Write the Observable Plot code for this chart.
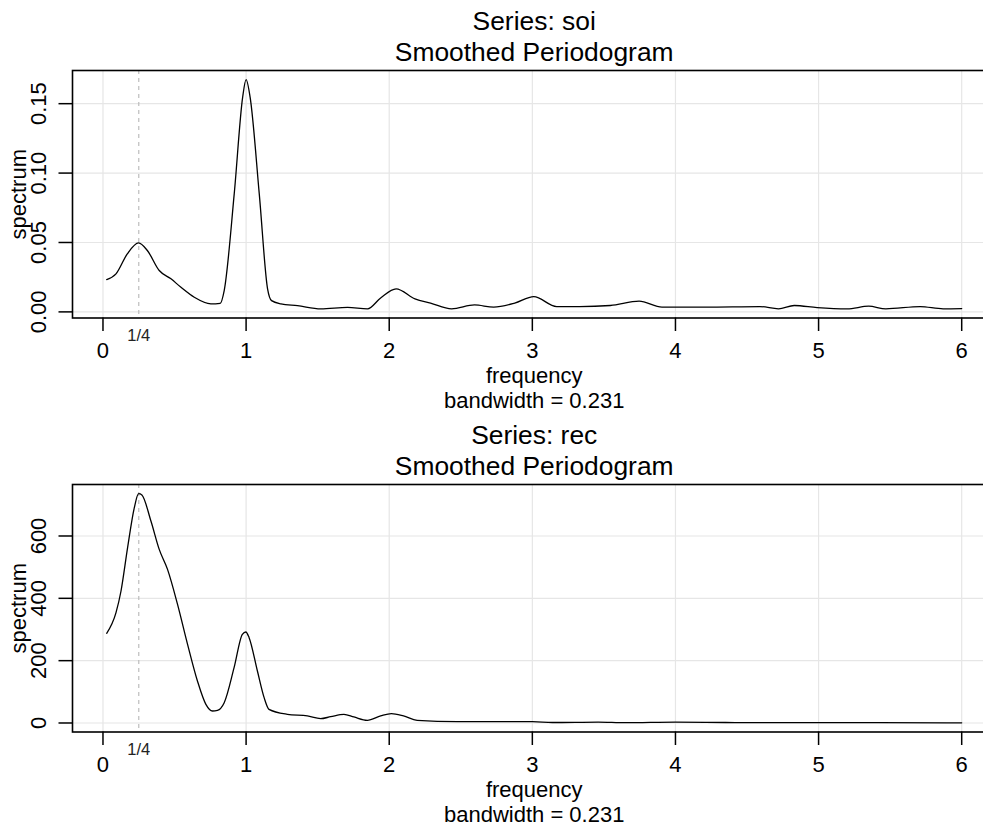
<!DOCTYPE html>
<html><head><meta charset="utf-8">
<script src="https://cdn.jsdelivr.net/npm/d3@7"></script>
<script src="https://cdn.jsdelivr.net/npm/@observablehq/plot@0.6"></script>
<style>html,body{margin:0;padding:0;background:#fff;overflow:hidden}svg{display:block}</style>
</head><body><div id="chart"></div>
<script>
// ---- data ----
const soiFreq = [0.026,0.091,0.17,0.249,0.31,0.393,0.475,0.545,0.638,0.754,0.819,0.847,0.917,0.976,1.0,1.028,1.092,1.15,1.178,1.243,1.359,1.522,1.709,1.848,1.94,2.048,2.18,2.289,2.436,2.596,2.73,2.877,3.01,3.17,3.33,3.545,3.746,3.906,4.21,4.59,4.72,4.83,4.99,5.2,5.35,5.47,5.71,5.87,6.0];
const soiSpec = [0.0233,0.0274,0.0418,0.0497,0.0442,0.0298,0.0238,0.0177,0.0105,0.0058,0.0062,0.0154,0.085,0.1547,0.1673,0.1547,0.085,0.0166,0.0081,0.0058,0.0045,0.0022,0.0033,0.0022,0.0100,0.0166,0.0094,0.0063,0.0022,0.0050,0.0034,0.0063,0.0110,0.0038,0.0038,0.0046,0.0077,0.0034,0.0034,0.0038,0.0022,0.0046,0.0031,0.0022,0.0041,0.0022,0.0038,0.0022,0.0024];
const recFreq = [0.026,0.091,0.126,0.172,0.219,0.249,0.272,0.335,0.393,0.451,0.521,0.591,0.66,0.719,0.765,0.8,0.847,0.916,0.974,0.998,1.021,1.079,1.126,1.16,1.288,1.428,1.521,1.591,1.684,1.753,1.847,1.94,2.015,2.1,2.195,2.476,3.0,3.14,3.46,3.65,4.0,4.35,5.0,5.42,6.0];
const recSpec = [287.7,354,423.5,562.6,691,735.8,731.5,648,557,493,380.7,252.4,134.8,59.9,38.5,40.6,65.2,177.5,284.5,292,273.8,166.8,81.3,43.8,27.8,22.5,13.9,20.3,27.8,19.3,8.6,22.5,30,22.5,8.6,4.3,4.3,1.5,3,1,3,1.5,1,1,0.5];
const xTicks = [0,1,2,3,4,5,6];
const soiYTicks = [0,0.05,0.10,0.15];
const recYTicks = [0,200,400,600];
const seriesNames = ["soi","rec"];
const mainTitle = "Smoothed Periodogram";
const xLabel = "frequency";
const yLabel = "spectrum";
const bandwidthText = "bandwidth = 0.231";
const markFreq = [0.25];
const markLabel = "1/4";

const FONT = "'Liberation Sans', Arial, Helvetica, sans-serif";

function rPad(ext){ const r = ext[1]-ext[0]; return [ext[0]-0.04*r, ext[1]+0.04*r]; }

function panel(name, freq, spec, yTicks, yFmt){
  const data = freq.map((f,i)=>({f, s: spec[i]}));
  return Plot.plot({
    width: 983, height: 413.5,
    marginTop: 70, marginBottom: 96, marginLeft: 72, marginRight: -12.4,
    style: {fontFamily: FONT, fontSize: "22px", color: "#000", background: "#fff", overflow: "hidden"},
    x: {domain: rPad(d3.extent(freq))},
    y: {domain: rPad(d3.extent(spec))},
    marks: [
      Plot.gridX(xTicks, {stroke: "#e6e6e6", strokeOpacity: 1, strokeWidth: 1.2}),
      Plot.gridY(yTicks, {stroke: "#e6e6e6", strokeOpacity: 1, strokeWidth: 1.2}),
      Plot.ruleX(markFreq, {x: d=>d, stroke: "#bdbdbd", strokeDasharray: "4,4", strokeWidth: 1.2}),
      Plot.line(data, {x: "f", y: "s", curve: "monotone-x", stroke: "#000", strokeWidth: 1.3}),
      Plot.frame({stroke: "#000", strokeWidth: 1.6}),
      Plot.axisX(xTicks, {tickSize: 13.5, tickPadding: 11, tickFormat: d3.format("d"), fontSize: 22, strokeWidth: 1.5, label: null}),
      Plot.axisY(yTicks, {tickSize: 13.5, tickPadding: 13.2, tickRotate: -90, tickFormat: yFmt, fontSize: 22, strokeWidth: 1.5, label: null}),
      Plot.text(markFreq, {x: d=>d, text: ()=>markLabel, frameAnchor: "bottom", lineAnchor: "bottom", dy: 22.5, fontSize: 16.5, fill: "#222"}),
      Plot.text([`Series: ${name}`], {text: d=>d, frameAnchor: "top", lineAnchor: "bottom", dy: -41, fontSize: 26.4}),
      Plot.text([mainTitle], {text: d=>d, frameAnchor: "top", lineAnchor: "bottom", dy: -10, fontSize: 26.4}),
      Plot.text([xLabel], {text: d=>d, frameAnchor: "bottom", lineAnchor: "bottom", dy: 64.5, fontSize: 22}),
      Plot.text([bandwidthText], {text: d=>d, frameAnchor: "bottom", lineAnchor: "bottom", dy: 90, fontSize: 22}),
      Plot.text([yLabel], {text: d=>d, frameAnchor: "left", lineAnchor: "bottom", textAnchor: "middle", rotate: -90, dx: -47, fontSize: 22})
    ]
  });
}

const root = document.getElementById("chart");
root.appendChild(panel(seriesNames[0], soiFreq, soiSpec, soiYTicks, d3.format(".2f")));
root.appendChild(panel(seriesNames[1], recFreq, recSpec, recYTicks, d3.format("d")));
</script>
</body></html>
